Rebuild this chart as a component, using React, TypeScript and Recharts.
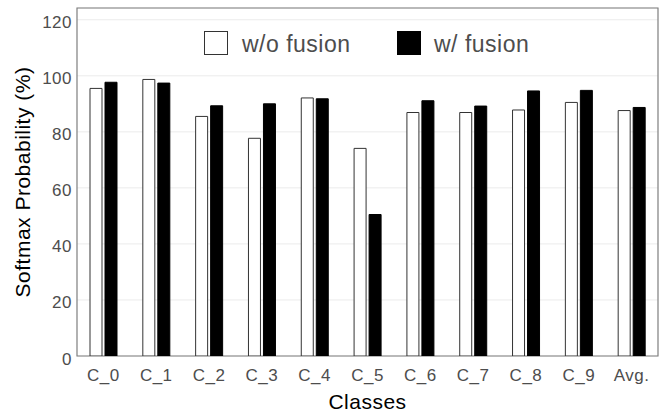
import React from 'react';
import { BarChart, Bar, XAxis, YAxis, CartesianGrid, ReferenceArea, Legend } from 'recharts';

const categories = ['C_0', 'C_1', 'C_2', 'C_3', 'C_4', 'C_5', 'C_6', 'C_7', 'C_8', 'C_9', 'Avg.'];
const withoutFusion = [95.5, 98.7, 85.5, 77.7, 92.1, 74.1, 86.9, 86.9, 87.8, 90.5, 87.6];
const withFusion = [97.7, 97.4, 89.3, 90.0, 91.8, 50.5, 91.1, 89.2, 94.6, 94.8, 88.7];
const yTicks = [0, 20, 40, 60, 80, 100, 120];
const seriesNames = ['w/o fusion', 'w/ fusion'];

const data = categories.map((c, i) => ({
  name: c,
  wo: withoutFusion[i],
  w: withFusion[i],
}));

const FONT = '"Liberation Sans", Arial, Helvetica, sans-serif';

const LegendContent = () => (
  <div style={{ position: 'relative', width: 340, height: 26, fontFamily: FONT }}>
    <div style={{ position: 'absolute', left: 0, top: 0, width: 22, height: 22, border: '1.5px solid #333', background: '#fff' }} />
    <div style={{ position: 'absolute', left: 38, top: 1, fontSize: 23, lineHeight: '24px', color: '#4d4d4d', letterSpacing: 0.5, whiteSpace: 'nowrap' }}>{seriesNames[0]}</div>
    <div style={{ position: 'absolute', left: 193, top: 0, width: 22, height: 22, border: '1.5px solid #000', background: '#000' }} />
    <div style={{ position: 'absolute', left: 230, top: 1, fontSize: 23, lineHeight: '24px', color: '#4d4d4d', letterSpacing: 0.5, whiteSpace: 'nowrap' }}>{seriesNames[1]}</div>
  </div>
);

export default function App() {
  return (
    <div style={{ position: 'absolute', left: 0, top: 0, width: 659, height: 413, background: '#fff' }}>
      <BarChart
        width={659}
        height={413}
        data={data}
        margin={{ top: 8, right: 1, bottom: 0, left: 0 }}
        barSize={12}
        barGap={3}
        style={{ fontFamily: FONT }}
      >
        <CartesianGrid horizontal vertical={false} stroke="#ebebeb" strokeWidth={1} />
        <XAxis
          dataKey="name"
          height={57}
          axisLine={false}
          tickLine={false}
          tickSize={0}
          tickMargin={13}
          interval={0}
          tick={{ fontSize: 17, fill: '#4d4d4d', letterSpacing: 0.5 }}
          label={{ value: 'Classes', position: 'insideBottom', offset: 4, fontSize: 21, fill: '#000', letterSpacing: 0.5 }}
        />
        <YAxis
          width={77}
          domain={[0, 124.2]}
          ticks={yTicks}
          allowDataOverflow
          axisLine={false}
          tickLine={false}
          tickSize={0}
          tickMargin={5}
          tick={{ fontSize: 17, fill: '#4d4d4d', letterSpacing: 0.5, dy: 2.5 }}
          label={{ value: 'Softmax Probability (%)', angle: -90, position: 'center', dx: -15.5, fontSize: 21, fill: '#000', letterSpacing: 0.5 }}
        />
        <Legend
          layout="horizontal"
          verticalAlign="middle"
          align="center"
          content={LegendContent}
          wrapperStyle={{ position: 'absolute', left: 204, top: 31, width: 340, height: 26 }}
        />
        <Bar dataKey="wo" name={seriesNames[0]} fill="#ffffff" stroke="#333333" strokeWidth={1} isAnimationActive={false} />
        <Bar dataKey="w" name={seriesNames[1]} fill="#000000" stroke="#000000" strokeWidth={1} isAnimationActive={false} />
        <ReferenceArea y1={0} y2={124.2} fill="none" stroke="#7f7f7f" strokeWidth={1.2} ifOverflow="visible" />
      </BarChart>
    </div>
  );
}
